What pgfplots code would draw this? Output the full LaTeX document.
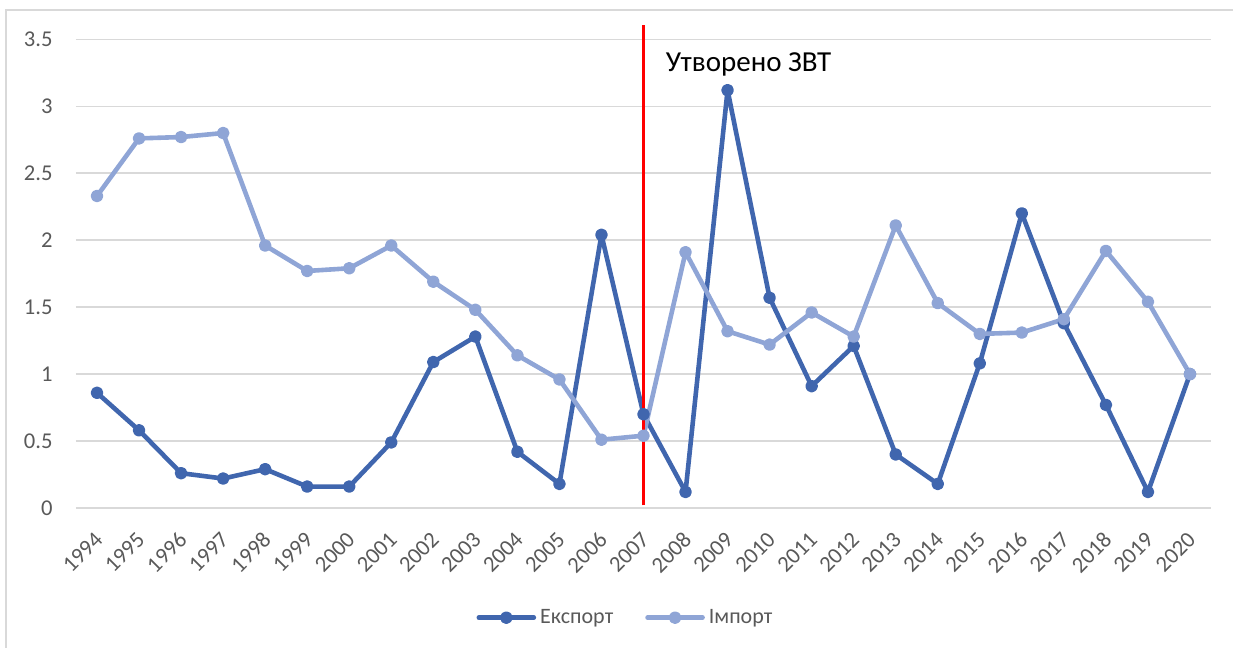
\documentclass[border=0pt]{standalone}
\usepackage{fontspec}
\setmainfont{Carlito}
\usepackage{pgfplots}
\pgfplotsset{compat=1.18}
\definecolor{expc}{HTML}{4066AE}
\definecolor{impc}{HTML}{8FA5D6}
\definecolor{gridc}{HTML}{D9D9D9}
\definecolor{txtc}{HTML}{595959}
\begin{document}
\begin{tikzpicture}
\begin{axis}[
  scale only axis,
  width=567.5pt, height=234.35pt,
  xmin=-0.5, xmax=26.5, ymin=0, ymax=3.5,
  clip=false,
  axis line style={draw=none},
  tick style={draw=none},
  ymajorgrids,
  grid style={color=gridc, line width=0.75pt},
  ytick={0,0.5,1,1.5,2,2.5,3,3.5},
  xtick={0,...,26},
  xticklabels={1994,1995,1996,1997,1998,1999,2000,2001,2002,2003,2004,2005,2006,2007,2008,2009,2010,2011,2012,2013,2014,2015,2016,2017,2018,2019,2020},
  /pgf/number format/assume math mode=true,
  ticklabel style={font=\fontsize{11.3}{13}\selectfont, color=txtc, inner sep=0pt},
  yticklabel style={anchor=east, xshift=-11.5pt},
  xticklabel style={yshift=-14pt, xshift=1pt, rotate=45, anchor=east},
  legend style={at={(0.485,-0.234)}, anchor=center, draw=none, fill=none,
    legend columns=2, font=\fontsize{11}{13}\selectfont, text=txtc,
    /tikz/every even column/.append style={column sep=14pt},
    inner sep=0pt},
  legend image code/.code={\draw[mark repeat=2,mark phase=2,#1] plot coordinates {(0pt,0pt) (13.75pt,0pt) (27.5pt,0pt)};},
]
\addplot[expc, line width=2.3pt, line join=round, line cap=round, mark=*, mark size=2pt, mark options={solid}] coordinates {
(0,0.86)(1,0.58)(2,0.26)(3,0.22)(4,0.29)(5,0.16)(6,0.16)(7,0.49)(8,1.09)(9,1.28)
(10,0.42)(11,0.18)(12,2.04)(13,0.70)(14,0.12)(15,3.12)(16,1.57)(17,0.91)(18,1.21)
(19,0.40)(20,0.18)(21,1.08)(22,2.20)(23,1.38)(24,0.77)(25,0.12)(26,1.00)};
\addlegendentry{Експорт}
\addplot[impc, line width=2.3pt, line join=round, line cap=round, mark=*, mark size=2pt, mark options={solid}] coordinates {
(0,2.33)(1,2.76)(2,2.77)(3,2.80)(4,1.96)(5,1.77)(6,1.79)(7,1.96)(8,1.69)(9,1.48)
(10,1.14)(11,0.96)(12,0.51)(13,0.54)(14,1.91)(15,1.32)(16,1.22)(17,1.46)(18,1.28)
(19,2.11)(20,1.53)(21,1.30)(22,1.31)(23,1.41)(24,1.92)(25,1.54)(26,1.00)};
\addlegendentry{Імпорт}
\addplot[red, line width=1.35pt, forget plot] coordinates {(13,0.02)(13,3.61)};
\node[anchor=west, inner sep=0pt, font=\fontsize{14.5}{16}\selectfont] at (axis cs:13.52,3.31) {Утворено ЗВТ};
\end{axis}
\path[use as bounding box] ([shift={(-38pt,-70pt)}]current axis.south west) rectangle ([shift={(578.5pt,254pt)}]current axis.south west);
\draw[gridc, line width=0.75pt] ([shift={(-35pt,-75pt)}]current axis.south west) -- ([shift={(-35pt,249pt)}]current axis.south west) -- ([shift={(585pt,249pt)}]current axis.south west);
\end{tikzpicture}
\end{document}
